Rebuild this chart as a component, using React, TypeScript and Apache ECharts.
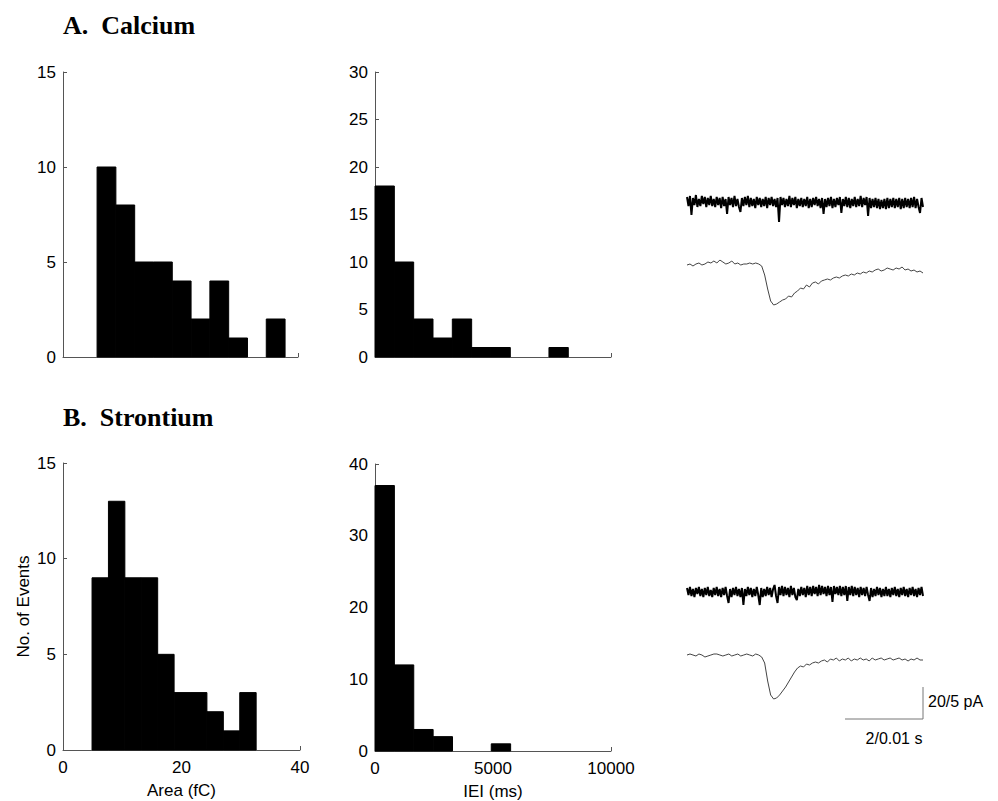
import React, { useEffect, useRef } from "react";
import * as echarts from "echarts";

// ---------- Data ----------
// Histogram A (Calcium): event area (fC)
const caAreaBinStart = 5.8;
const caAreaBinWidth = 3.2;
const caAreaCounts = [10, 8, 5, 5, 4, 2, 4, 1, 0, 2];

// Histogram A (Calcium): inter-event interval (ms)
const caIeiBinStart = 0;
const caIeiBinWidth = 819;
const caIeiCounts = [18, 10, 4, 2, 4, 1, 1, 0, 0, 1];

// Histogram B (Strontium): event area (fC)
const srAreaBinStart = 4.9;
const srAreaBinWidth = 2.77;
const srAreaCounts = [9, 13, 9, 9, 5, 3, 3, 2, 1, 3];

// Histogram B (Strontium): inter-event interval (ms)
const srIeiBinStart = 0;
const srIeiBinWidth = 821;
const srIeiCounts = [37, 12, 3, 2, 0, 0, 1];

// Axis tick settings
const areaTicks = { min: 0, max: 40, interval: 20 };
const ieiTicks = { min: 0, max: 10000, interval: 5000 };
const caAreaY = { min: 0, max: 15, interval: 5 };
const caIeiY = { min: 0, max: 30, interval: 5 };
const srAreaY = { min: 0, max: 15, interval: 5 };
const srIeiY = { min: 0, max: 40, interval: 10 };

// Example current traces (arbitrary units)
const caNoiseTrace = [
  5, -4, 6, -13, 4, -3, 7, -5, 3, -4, 6, -2, 5, -5, 4, -3, 6, -4, 3, -5,
  5, -3, 4, -6, 5, -4, 3, -12, 5, -3, 4, -5, 6, -4, 3, -5, -10, 4, -4, 5,
  -3, 6, -5, 4, -4, 3, -6, 5, -3, 4, -5, 3, -4, 5, -6, 4, -3, 5, -4, 3,
  -5, 4, -20, 5, -3, 4, -5, 3, -4, 6, -5, 4, -3, 5, -6, 3, -4, 4, -5, 3,
  -4, 5, -6, 3, -5, 4, -3, 5, -4, 3, -6, 4, -12, 3, -5, 4, -4, 5, -6, 3,
  -5, 4, -3, 5, -11, 3, -4, 5, -5, 4, -6, 3, -4, 5, -5, 3, -4, 6, -5, 4,
  -3, 5, -14, 4, -6, 3, -5, 4, -6, 3, -7, 2, -6, 3, -7, 4, -6, 3, -5, 4,
  -6, 3, -5, 4, -7, 3, -6, 4, -5, 3, -6, 4, -5, 5, -6, 3, -5, -11, 4, -5,
];
const caEventTrace = [
  0, 1, -1, 1, 2, 0, 1, 3, 2, 4,
  2, 5, 3, 1, 2, 4, 1, 2, 0, 1,
  1, 2, 1, 2, 1, -1, -10, -24, -36, -40,
  -39, -37, -35, -34, -31, -32, -28, -26, -23, -24,
  -20, -22, -18, -17, -19, -16, -15, -14, -15, -13,
  -12, -13, -11, -10, -11, -9, -10, -8, -9, -7,
  -8, -6, -7, -5, -4, -6, -5, -3, -4, -5,
  -3, -4, -2, -5, -4, -6, -5, -7, -6, -8,
];
const srNoiseTrace = [
  4, -3, 5, -4, 3, -5, 4, -2, 5, -4, 3, -5, 4, -3, 5, -4, 2, -5, 4, -3,
  5, -4, 3, -5, 4, -3, 5, -4, -11, 3, -5, 4, -3, 5, -4, 3, -5, 4, -13, 3,
  -4, 5, -3, 4, -5, 3, -4, 5, -3, -13, 4, -5, 3, -4, 5, -3, 4, -5, 3, 7,
  -4, -11, 5, -3, 6, -4, 5, -3, 4, -5, 6, -3, 4, -5, -8, 3, -4, 5, -3, 4,
  -5, 6, -3, 5, -4, 6, -2, 5, -4, 7, -3, 6, -2, 5, -4, 6, -3, 5, -10, 6,
  -2, 5, -3, 6, -4, 5, -3, 6, -9, 5, -3, 6, -4, 5, -3, 4, -5, 5, -3, 4,
  -4, 5, -3, -9, 4, -5, 3, -4, 5, -3, 4, -5, 3, -4, 5, -4, 3, -5, 4, -3,
  5, -4, 3, -5, 4, -3, 5, -4, 3, -5, 4, -3, 5, -4, 3, -5, 4, -3, 5, -4,
];
const srEventTrace = [
  0, 1, 0, -1, 1, 0, -2, -1, 0, 1,
  1, 0, -1, 0, 1, -1, 0, 1, -1, 0,
  1, 0, -1, 1, 0, -2, -8, -26, -40, -44,
  -43, -40, -36, -32, -27, -22, -17, -13, -11, -12,
  -9, -10, -8, -7, -8, -6, -5, -7, -4, -5,
  -3, -6, -4, -5, -3, -6, -4, -5, -3, -5,
  -4, -6, -3, -5, -4, -3, -5, -4, -3, -5,
  -4, -3, -5, -4, -6, -4, -5, -3, -5, -5,
];

const panelTitles = ["A.  Calcium", "B.  Strontium"];
const yAxisName = "No. of Events";
const areaAxisName = "Area (fC)";
const ieiAxisName = "IEI (ms)";
const scaleYLabel = "20/5 pA";
const scaleXLabel = "2/0.01 s";

// ---------- Helpers ----------
const SANS = '"Liberation Sans", Arial, Helvetica, sans-serif';
const SERIF = '"Liberation Serif", "Times New Roman", serif';

function bins(start: number, width: number, counts: number[]) {
  return counts.map((c, i) => [start + i * width, start + (i + 1) * width, c]);
}

function histRender(params: any, api: any) {
  const x0 = api.value(0);
  const x1 = api.value(1);
  const y = api.value(2);
  if (!y) return null;
  const p0 = api.coord([x0, y]);
  const p1 = api.coord([x1, 0]);
  return {
    type: "rect",
    shape: { x: p0[0], y: p0[1], width: p1[0] - p0[0], height: p1[1] - p0[1] },
    style: { fill: "#000", stroke: "#000", lineWidth: 1 },
  };
}

const axisLineStyle = { color: "#555", width: 1 };
const plainNumber = (v: number) => String(v);

function histX(gridIndex: number, t: any, showLabels: boolean, name?: string) {
  return {
    type: "value",
    gridIndex,
    min: t.min,
    max: t.max,
    interval: t.interval,
    splitLine: { show: false },
    axisLine: { show: true, onZero: false, lineStyle: axisLineStyle },
    axisTick: { show: true, inside: true, length: 4, lineStyle: axisLineStyle },
    axisLabel: {
      show: showLabels,
      fontSize: 17,
      color: "#000",
      fontFamily: SANS,
      margin: 9,
      formatter: plainNumber,
    },
    name: name || "",
    nameLocation: "middle",
    nameGap: 32,
    nameTextStyle: { fontSize: 17, color: "#000", fontFamily: SANS },
  };
}

function histY(gridIndex: number, t: any, name?: string) {
  return {
    type: "value",
    gridIndex,
    min: t.min,
    max: t.max,
    interval: t.interval,
    splitLine: { show: false },
    axisLine: { show: true, lineStyle: axisLineStyle },
    axisTick: { show: true, inside: true, length: 4, lineStyle: axisLineStyle },
    axisLabel: { fontSize: 17, color: "#000", fontFamily: SANS, margin: 7, formatter: plainNumber },
    name: name || "",
    nameLocation: "middle",
    nameGap: 31,
    nameTextStyle: { fontSize: 17, color: "#000", fontFamily: SANS },
  };
}

function traceX(gridIndex: number, n: number) {
  return { type: "value", gridIndex, min: 0, max: n - 1, show: false };
}
function traceY(gridIndex: number, min: number, max: number) {
  return { type: "value", gridIndex, min, max, show: false };
}

export default function App() {
  const ref = useRef<HTMLDivElement>(null);

  useEffect(() => {
    if (!ref.current) return;
    const chart = echarts.init(ref.current, undefined, { renderer: "svg" });

    const option: any = {
      animation: false,
      backgroundColor: "#fff",
      grid: [
        { left: 63, top: 72, width: 235, height: 285 },
        { left: 375, top: 72, width: 236, height: 285 },
        { left: 63, top: 463, width: 237, height: 287 },
        { left: 375, top: 464, width: 236, height: 287 },
        { left: 687, top: 192, width: 236, height: 32 },
        { left: 687, top: 260, width: 236, height: 50 },
        { left: 687, top: 582, width: 236, height: 32 },
        { left: 687, top: 650, width: 236, height: 52 },
      ],
      xAxis: [
        histX(0, areaTicks, false),
        histX(1, ieiTicks, false),
        histX(2, areaTicks, true, areaAxisName),
        histX(3, ieiTicks, true, ieiAxisName),
        traceX(4, caNoiseTrace.length),
        traceX(5, caEventTrace.length),
        traceX(6, srNoiseTrace.length),
        traceX(7, srEventTrace.length),
      ],
      yAxis: [
        histY(0, caAreaY),
        histY(1, caIeiY),
        histY(2, srAreaY, yAxisName),
        histY(3, srIeiY),
        traceY(4, -22, 10),
        traceY(5, -45, 5),
        traceY(6, -22, 10),
        traceY(7, -47, 5),
      ],
      series: [
        {
          type: "custom",
          xAxisIndex: 0,
          yAxisIndex: 0,
          renderItem: histRender,
          encode: { x: [0, 1], y: 2 },
          data: bins(caAreaBinStart, caAreaBinWidth, caAreaCounts),
        },
        {
          type: "custom",
          xAxisIndex: 1,
          yAxisIndex: 1,
          renderItem: histRender,
          encode: { x: [0, 1], y: 2 },
          data: bins(caIeiBinStart, caIeiBinWidth, caIeiCounts),
        },
        {
          type: "custom",
          xAxisIndex: 2,
          yAxisIndex: 2,
          renderItem: histRender,
          encode: { x: [0, 1], y: 2 },
          data: bins(srAreaBinStart, srAreaBinWidth, srAreaCounts),
        },
        {
          type: "custom",
          xAxisIndex: 3,
          yAxisIndex: 3,
          renderItem: histRender,
          encode: { x: [0, 1], y: 2 },
          data: bins(srIeiBinStart, srIeiBinWidth, srIeiCounts),
        },
        {
          type: "line",
          xAxisIndex: 4,
          yAxisIndex: 4,
          showSymbol: false,
          lineStyle: { color: "#000", width: 2 },
          data: caNoiseTrace.map((v, i) => [i, v]),
        },
        {
          type: "line",
          xAxisIndex: 5,
          yAxisIndex: 5,
          showSymbol: false,
          lineStyle: { color: "#444", width: 1 },
          data: caEventTrace.map((v, i) => [i, v]),
        },
        {
          type: "line",
          xAxisIndex: 6,
          yAxisIndex: 6,
          showSymbol: false,
          lineStyle: { color: "#000", width: 2 },
          data: srNoiseTrace.map((v, i) => [i, v]),
        },
        {
          type: "line",
          xAxisIndex: 7,
          yAxisIndex: 7,
          showSymbol: false,
          lineStyle: { color: "#444", width: 1 },
          data: srEventTrace.map((v, i) => [i, v]),
        },
      ],
      graphic: [
        {
          type: "text",
          x: 63,
          y: 25,
          style: {
            text: panelTitles[0],
            font: `bold 26px ${SERIF}`,
            fill: "#000",
            verticalAlign: "middle",
          },
        },
        {
          type: "text",
          x: 63,
          y: 417,
          style: {
            text: panelTitles[1],
            font: `bold 26px ${SERIF}`,
            fill: "#000",
            verticalAlign: "middle",
          },
        },
        {
          type: "polyline",
          shape: { points: [[845, 719], [923, 719], [923, 687]] },
          style: { stroke: "#777", lineWidth: 1, fill: "none" },
        },
        {
          type: "text",
          x: 928,
          y: 701,
          style: {
            text: scaleYLabel,
            font: `16px ${SANS}`,
            fill: "#000",
            verticalAlign: "middle",
          },
        },
        {
          type: "text",
          x: 894,
          y: 738,
          style: {
            text: scaleXLabel,
            font: `16px ${SANS}`,
            fill: "#000",
            align: "center",
            verticalAlign: "middle",
          },
        },
      ],
    };

    chart.setOption(option);
    return () => chart.dispose();
  }, []);

  return (
    <div
      ref={ref}
      style={{ position: "fixed", left: 0, top: 0, width: 998, height: 801, background: "#fff" }}
    />
  );
}
